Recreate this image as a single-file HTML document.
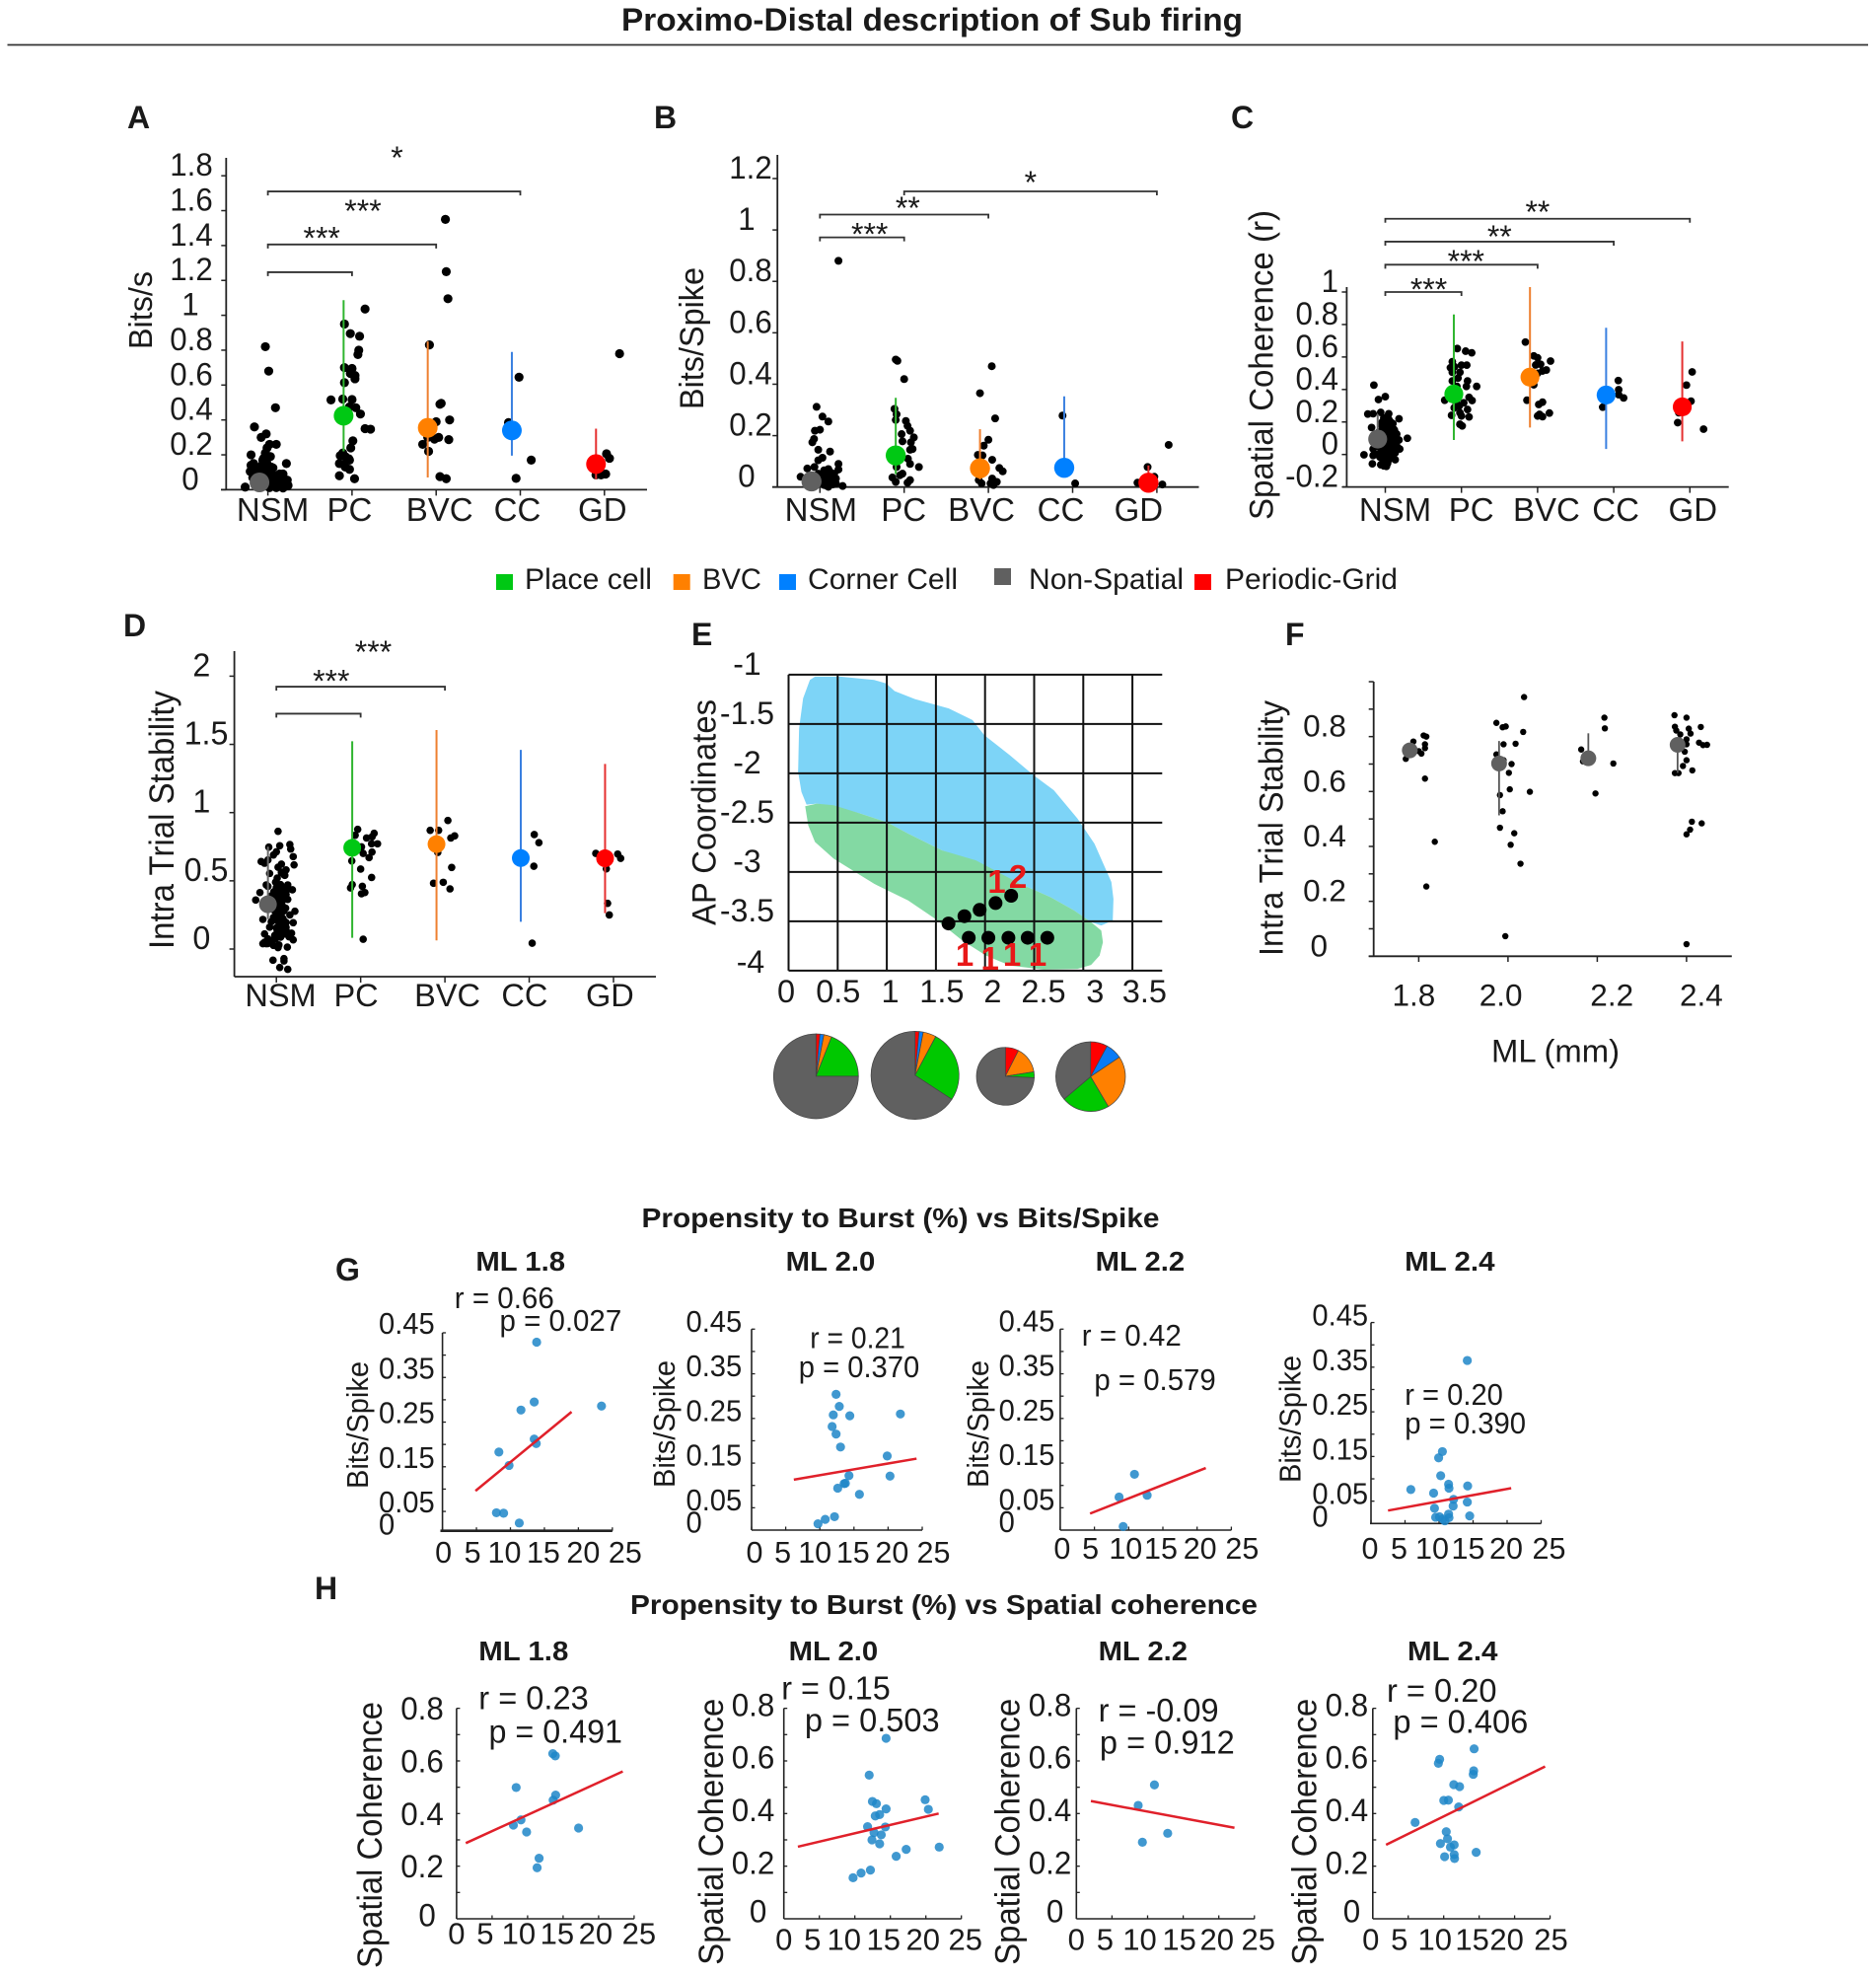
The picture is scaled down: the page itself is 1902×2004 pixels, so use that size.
<!DOCTYPE html>
<html lang="en">
<head>
<meta charset="utf-8">
<title>Proximo-Distal description of Sub firing</title>
<style>
html,body{margin:0;padding:0;background:#fff;}
svg{display:block;}
text{font-family:"Liberation Sans",Arial,sans-serif;fill:#1a1a1a;}
.letter{font-size:32px;font-weight:bold;}
.legend{font-size:29.5px;}
.section{font-size:28px;font-weight:bold;}
.ml{font-size:28px;font-weight:bold;}
</style>
</head>
<body>
<svg id="figure" xmlns="http://www.w3.org/2000/svg" width="1902" height="2004" viewBox="0 0 1902 2004">
  <rect x="0" y="0" width="1902" height="2004" fill="#fff"/>
  <text x="630" y="31" font-size="32" font-weight="bold" textLength="630" lengthAdjust="spacingAndGlyphs">Proximo-Distal description of Sub firing</text>
  <line x1="7.5" y1="45.5" x2="1894" y2="45.5" stroke="#333" stroke-width="1.8"/>

  <text class="letter" x="129" y="130">A</text>
  <text class="letter" x="663" y="130">B</text>
  <text class="letter" x="1248" y="130">C</text>
  <text class="letter" x="125" y="645">D</text>
  <text class="letter" x="701" y="654">E</text>
  <text class="letter" x="1303" y="654">F</text>
  <text class="letter" x="340" y="1298">G</text>
  <text class="letter" x="319" y="1621">H</text>

  <g>
    <rect x="503" y="582" width="17" height="16" fill="#00c814"/>
    <text class="legend" x="532" y="597" textLength="129" lengthAdjust="spacingAndGlyphs">Place cell</text>
    <rect x="682.7" y="582" width="17" height="16" fill="#ff8000"/>
    <text class="legend" x="712" y="597" textLength="60" lengthAdjust="spacingAndGlyphs">BVC</text>
    <rect x="790" y="582" width="17" height="16" fill="#0080ff"/>
    <text class="legend" x="819" y="597" textLength="152" lengthAdjust="spacingAndGlyphs">Corner Cell</text>
    <rect x="1008" y="576" width="17" height="17" fill="#606060"/>
    <text class="legend" x="1043" y="597" textLength="157" lengthAdjust="spacingAndGlyphs">Non-Spatial</text>
    <rect x="1211" y="582" width="17" height="16" fill="#ff0000"/>
    <text class="legend" x="1242" y="597" textLength="175" lengthAdjust="spacingAndGlyphs">Periodic-Grid</text>
  </g>

  <text class="section" x="650.5" y="1244" textLength="525" lengthAdjust="spacingAndGlyphs">Propensity to Burst (%) vs Bits/Spike</text>
  <text class="section" x="639" y="1636" textLength="636" lengthAdjust="spacingAndGlyphs">Propensity to Burst (%) vs Spatial coherence</text>

  <text class="ml" x="482.4" y="1288" textLength="90.6" lengthAdjust="spacingAndGlyphs">ML 1.8</text>
  <text class="ml" x="796.7" y="1288" textLength="90.6" lengthAdjust="spacingAndGlyphs">ML 2.0</text>
  <text class="ml" x="1110.7" y="1288" textLength="90.5" lengthAdjust="spacingAndGlyphs">ML 2.2</text>
  <text class="ml" x="1424.2" y="1288" textLength="91.3" lengthAdjust="spacingAndGlyphs">ML 2.4</text>
  <text class="ml" x="485.3" y="1683" textLength="91" lengthAdjust="spacingAndGlyphs">ML 1.8</text>
  <text class="ml" x="799.6" y="1683" textLength="90.6" lengthAdjust="spacingAndGlyphs">ML 2.0</text>
  <text class="ml" x="1113.6" y="1683" textLength="90.4" lengthAdjust="spacingAndGlyphs">ML 2.2</text>
  <text class="ml" x="1427" y="1683" textLength="91.5" lengthAdjust="spacingAndGlyphs">ML 2.4</text>
</svg>

<script>
/* ---------- shared categories and tick labels ---------- */
const cellTypes = ['NSM','PC','BVC','CC','GD'];
const typeSlugs = ['nsm','pc','bvc','cc','gd'];
const typeColors = ['#606060','#00c814','#ff8000','#0080ff','#ff0000'];
const errColors = ['#6a6a6a','#2fb52f','#ee8030','#3a80e0','#e53030'];
const aTicks = [0,0.2,0.4,0.6,0.8,1,1.2,1.4,1.6,1.8];
const aTickLabels = ['0','0.2','0.4','0.6','0.8','1','1.2','1.4','1.6','1.8'];
const bTicks = [0,0.2,0.4,0.6,0.8,1,1.2];
const bTickLabels = ['0','0.2','0.4','0.6','0.8','1','1.2'];
const cTicks = [-0.2,0,0.2,0.4,0.6,0.8,1];
const cTickLabels = ['-0.2','0','0.2','0.4','0.6','0.8','1'];
const dTicks = [0,0.5,1,1.5,2];
const dTickLabels = ['0','0.5','1','1.5','2'];
const fMinorTicks = [0,0.1,0.2,0.3,0.4,0.5,0.6,0.7,0.8,0.9,1];
const fTicks = [0,0.2,0.4,0.6,0.8];
const fTickLabels = ['0','0.2','0.4','0.6','0.8'];
const fCategories = ['1.8','2.0','2.2','2.4'];
const burstTicks = [0,5,10,15,20,25];
const burstTickLabels = ['0','5','10','15','20','25'];
const bitsMinor = [0.05,0.1,0.15,0.2,0.25,0.3,0.35,0.4,0.45];
const bitsLabelTicks = [0,0.05,0.15,0.25,0.35,0.45];
const bitsLabels = ['0','0.05','0.15','0.25','0.35','0.45'];
const cohMinor = [0.1,0.2,0.3,0.4,0.5,0.6,0.7,0.8];
const cohLabelTicks = [0,0.2,0.4,0.6,0.8];
const cohLabels = ['0','0.2','0.4','0.6','0.8'];
const eXTicks = [0,0.5,1,1.5,2,2.5,3,3.5];
const eXLabels = ['0','0.5','1','1.5','2','2.5','3','3.5'];
const eYTicks = [-1,-1.5,-2,-2.5,-3,-3.5,-4];
const eYLabels = ['-1','-1.5','-2','-2.5','-3','-3.5','-4'];

/* ---------- Panel A: [jitter, bits/s] ---------- */
const aNsm = [[-.03,.82],[.01,.68],[.09,.47],[-.16,.36],[-.02,.32],[-.08,.30],[.10,.26],[.02,.26],[-.01,.24],[-.03,.21],[-.20,.20],[.03,.19],[-.05,.18],[-.17,.15],[-.20,.14],[.22,.15],[-.07,.14],[.06,.125],[-.16,.12],[-.21,.105],[-.05,.11],[.14,.09],[.02,.10],[-.12,.08],[.08,.08],[.17,.06],[.23,.055],[.12,.045],[.05,.05],[0,.04],[.22,.025],[.17,.02],[.10,.012],[.02,.012],[.24,.025],[-.27,.015],[-.07,.03],[-.15,.05],[.1,.03],[.14,.02],[.18,.01],[.2,.035],[.13,.06],[.08,.02],[.06,.03],[.16,.04],[.11,.07],[-.09,.09],[-.03,.07],[-.12,.11],[0,.09],[.04,.13],[-.01,.15],[-.06,.17],[-.02,.20],[-.14,.09],[-.18,.07],[.18,.09]];
const aPc = [[.155,1.036],[-.09,.95],[-.02,.895],[.09,.88],[.08,.80],[.07,.775],[-.09,.70],[0,.695],[-.02,.667],[.035,.655],[.035,.636],[-.09,.614],[-.25,.515],[-.11,.52],[0,.517],[-.03,.475],[.045,.47],[.10,.434],[.155,.35],[.22,.347],[.01,.28],[-.015,.24],[-.11,.21],[-.14,.195],[-.08,.19],[-.04,.178],[-.03,.17],[-.15,.15],[-.10,.145],[-.08,.13],[-.03,.117],[-.15,.08],[.03,.063]];
const aBvc = [[.11,1.55],[.12,1.25],[.14,1.095],[-.08,.83],[.06,.495],[.045,.49],[.16,.40],[0,.39],[-.16,.26],[.03,.30],[-.02,.29],[.15,.287],[-.09,.22],[.045,.075],[.12,.063],[-.10,.30]];
const aCc = [[-.015,.645],[-.14,.385],[.13,.17],[-.05,.065]];
const aGd = [[.18,.78],[.025,.206],[.06,.18],[.015,.09],[-.04,.085],[-.1,.085]];
const aMeans = [.042,.424,.355,.34,.147];
const aErrHigh = [.06,1.087,.85,.79,.35];
const aErrLow = [.02,.22,.07,.195,.06];

/* ---------- Panel B: [jitter, bits/spike] ---------- */
const bNsm = [[.22,.88],[-.04,.312],[.03,.274],[.10,.255],[0,.223],[-.06,.219],[-.07,.187],[-.09,.174],[-.02,.145],[.12,.138],[.03,.114],[-.02,.104],[.22,.09],[-.15,.072],[.22,.068],[-.065,.078],[.05,.065],[.12,.059],[.17,.052],[-.23,.04],[.075,.046],[.19,.033],[-.02,.052],[.03,.033],[.10,.027],[.14,.02],[.19,.014],[.27,.004],[.05,.008],[.10,.001],[-.13,.02],[-.065,.02],[.14,.04],[.02,.04],[.04,.03],[.06,.02],[.08,.035],[.09,.05],[.11,.015],[.13,.03],[.15,.01],[.07,.06],[.1,.07],[0,.03],[.03,.05],[.12,.05],[.16,.03],[.17,.012],[.08,.005],[-.03,.04],[.01,.015]];
const bPc = [[-.10,.496],[-.08,.491],[0,.42],[-.115,.304],[-.09,.283],[-.10,.261],[.02,.257],[.04,.238],[.07,.219],[.115,.193],[-.03,.206],[-.02,.178],[.08,.174],[.10,.148],[.07,.145],[.045,.11],[.07,.09],[.175,.078],[-.09,.078],[-.02,.052],[-.14,.037],[-.05,.046],[-.10,.02],[.07,.027],[.04,.017]];
const bBvc = [[.04,.47],[-.10,.365],[.08,.267],[0,.184],[-.055,.161],[-.125,.125],[-.07,.123],[.045,.106],[.13,.074],[.17,.061],[-.115,.027],[.045,.033],[-.08,.014],[.025,.014],[.10,.02],[.06,.008]];
const bCc = [[-.12,.278],[.03,.014]];
const bGd = [[.14,.164],[-.11,.078],[-.03,.04],[-.23,.017],[.065,.01]];
const bMeans = [.022,.123,.073,.075,.017];
const bErrHigh = [.03,.347,.225,.353,.084];
const bErrLow = [.01,.05,.03,.07,.005];

/* ---------- Panel C: [jitter, spatial coherence] ---------- */
const cNsm = [[-.15,.427],[0,.356],[-.09,.338],[-.23,.249],[-.16,.251],[-.06,.259],[.045,.251],[.18,.22],[.045,.217],[-.18,.166],[-.06,.186],[.015,.196],[.065,.176],[.11,.156],[-.035,.156],[.04,.146],[-.08,.136],[.09,.126],[.15,.126],[.29,.10],[-.01,.105],[.065,.095],[.14,.085],[.18,.089],[-.06,.075],[.015,.065],[.09,.055],[.16,.045],[.19,.034],[-.16,.034],[-.06,.034],[.04,.034],[.11,.014],[-.28,-.002],[-.16,-.006],[-.01,.004],[.065,-.006],[-.07,-.016],[.13,-.032],[.03,-.032],[-.17,-.057],[-.06,-.063],[.015,-.073],[-.02,-.047],[.04,.075],[-.02,.126],[.03,.170],[.10,.105],[-.05,.105],[.06,.04],[.12,.12],[0,.19],[-.03,.09],[.09,.16],[.02,.01],[.07,.13],[-.01,.14],[.13,.065],[.05,.115],[-.03,.02],[.08,.02],[-.04,.20],[0,.17],[.05,.19],[.08,.17],[.12,.15],[-.03,.14],[.02,.16],[.06,.15],[.1,.14],[.14,.11],[-.04,.12],[0,.11],[.04,.12],[.08,.11],[.12,.09],[-.06,.05],[-.02,.06],[.02,.08],[.06,.07],[.1,.06],[.14,.06],[-.04,.01],[0,.05],[.03,.02],[.07,0],[.1,.04],[.13,.01],[.01,-.02],[.05,-.03],[-.03,-.03],[.08,-.02],[.03,-.055],[-.02,-.07],[.05,.21],[.02,.23],[-.02,.225],[.1,.19],[.07,.2],[-.08,.14],[-.11,.1],[-.13,.05],[-.1,0]];
const cPc = [[-.055,.652],[.055,.636],[.135,.626],[-.12,.571],[-.09,.54],[-.145,.534],[0,.55],[.07,.55],[-.02,.506],[-.12,.506],[-.045,.47],[-.12,.453],[.08,.453],[.065,.419],[.20,.419],[-.06,.419],[.10,.352],[-.22,.334],[.14,.332],[.03,.318],[-.03,.298],[-.095,.287],[.08,.277],[-.02,.257],[-.13,.241],[0,.237],[.10,.231],[-.02,.186],[.01,.176],[-.07,.318]];
const cBvc = [[-.16,.692],[-.05,.607],[0,.595],[.17,.575],[-.025,.551],[.04,.555],[.065,.514],[.115,.52],[0,.50],[-.05,.429],[-.14,.334],[.065,.322],[.015,.308],[.155,.255],[.025,.247],[.065,.233],[0,.237]];
const cCc = [[.06,.455],[.065,.399],[.065,.368],[.13,.348],[-.145,.291]];
const cGd = [[.03,.508],[-.045,.427],[.015,.328],[-.145,.257],[-.16,.196],[.18,.156]];
const cMeans = [.095,.372,.476,.366,.293];
const cErrHigh = [.247,.862,1.03,.78,.696];
const cErrLow = [.04,.089,.166,.034,.081];

/* ---------- Panel D: [jitter, intra trial stability] ---------- */
const dNsm = [[.02,.863],[.16,.766],[.04,.757],[-.09,.747],[.17,.733],[0,.713],[-.035,.689],[.20,.677],[-.10,.653],[-.18,.641],[-.14,.629],[.06,.622],[.21,.617],[.115,.58],[.06,.564],[-.08,.554],[.09,.545],[.01,.52],[-.01,.49],[.05,.472],[-.10,.46],[.09,.448],[.19,.434],[-.195,.414],[-.01,.424],[.05,.412],[.115,.40],[-.245,.359],[.135,.364],[.01,.376],[.07,.352],[.22,.277],[.16,.25],[-.055,.304],[.03,.292],[.09,.28],[-.16,.217],[-.035,.231],[.01,.207],[.20,.193],[.05,.171],[.115,.159],[.09,.135],[.18,.116],[.05,.087],[-.14,.111],[.20,.067],[-.10,.075],[-.16,.039],[-.12,.039],[-.035,.027],[.02,.01],[.13,.014],[-.04,-.082],[.09,-.07],[.09,-.087],[.04,-.135],[.135,-.149],[.01,.135],[-.08,.16],[-.01,.075],[.05,.255],[-.035,.376],[.03,.47],[.135,.47],[-.12,.47],[.115,.195],[-.02,.34],[.08,.22],[.04,.19],[0,.155],[.07,.40],[-.07,.06],[0,.45],[.03,.43],[.06,.39],[.09,.37],[-.03,.42],[-.06,.39],[.12,.43],[.02,.33],[.05,.33],[.08,.31],[.11,.30],[-.02,.28],[.03,.25],[0,.22],[.07,.23],[.1,.2],[.06,.16],[.09,.11],[.03,.12],[-.02,.1],[.12,.13],[.15,.09],[-.05,.06],[-.1,.04],[-.14,.05],[.03,.03],[.06,.56],[.1,.54],[.02,.6],[-.06,.2]];
const dPc = [[-.035,.877],[.16,.848],[-.065,.834],[.07,.814],[.135,.822],[.20,.771],[.13,.771],[.01,.749],[.135,.711],[.03,.701],[.10,.67],[-.105,.646],[0,.586],[.13,.525],[-.10,.472],[-.12,.448],[.02,.46],[.05,.414],[.01,.405],[.03,.072]];
const dBvc = [[.035,.942],[-.175,.87],[-.075,.87],[.115,.829],[.07,.814],[-.085,.708],[.08,.598],[-.135,.482],[-.02,.489],[.06,.441]];
const dCc = [[.06,.839],[.115,.78],[.055,.607],[.035,.043]];
const dGd = [[-.21,.701],[.05,.696],[.085,.665],[-.085,.588],[-.07,.335],[-.05,.25]];
const dMeans = [.328,.742,.769,.667,.665];
const dErrHigh = [.75,1.523,1.605,1.46,1.357];
const dErrLow = [.22,.082,.063,.2,.263];

/* ---------- Panel E: recording map ---------- */
const subicularBlue = [[.217,-1.054],[.269,-1.02],[.528,-1.02],[.872,-1.054],[.993,-1.088],[1.079,-1.166],[1.286,-1.247],[1.631,-1.342],[1.872,-1.46],[1.993,-1.613],[2.252,-1.816],[2.493,-2.019],[2.7,-2.171],[2.941,-2.459],[3.114,-2.713],[3.286,-3.102],[3.307,-3.272],[3.3,-3.492],[3.183,-3.542],[3.079,-3.508],[2.907,-3.39],[2.666,-3.255],[2.355,-3.119],[1.907,-2.899],[1.562,-2.781],[1.217,-2.611],[1.01,-2.5],[.734,-2.408],[.459,-2.334],[.286,-2.307],[.183,-2.317],[.131,-2.188],[.097,-1.985],[.107,-1.545],[.148,-1.24]];
const subicularGreen = [[.169,-2.334],[.286,-2.307],[.459,-2.324],[.734,-2.408],[1.01,-2.5],[1.217,-2.611],[1.562,-2.781],[1.907,-2.882],[2.355,-3.119],[2.666,-3.255],[2.907,-3.39],[3.079,-3.508],[3.183,-3.593],[3.2,-3.712],[3.166,-3.847],[3.079,-3.942],[2.941,-3.982],[2.597,-3.989],[2.252,-3.948],[2.01,-3.847],[1.769,-3.695],[1.493,-3.475],[1.217,-3.289],[.872,-3.12],[.459,-2.865],[.269,-2.696],[.2,-2.527]];
const recordingSites = [[1.628,-3.522],[1.79,-3.448],[1.945,-3.384],[2.107,-3.315],[2.266,-3.241],[1.834,-3.667],[2.034,-3.667],[2.238,-3.667],[2.434,-3.667],[2.634,-3.667]];
const pieOrder = ['periodic-grid','corner-cell','bvc','place-cell','non-spatial'];
const pieColors = ['#ff0000','#0a7bf5','#ff8000','#00c800','#606060'];
const pieMl18 = [1.5,1.5,3,19,75];
const pieMl20 = [1.5,1.5,4.8,26.4,65.8];
const pieMl22 = [7.5,0,15,3.3,74.2];
const pieMl24 = [7.9,7.7,25.9,22.3,36.2];

/* ---------- Panel F: [jitter, stability] ---------- */
const fMl18 = [[-.06,.782],[.055,.804],[.085,.80],[.07,.772],[.07,.758],[0,.747],[.03,.738],[-.145,.719],[.07,.647],[.18,.417],[.085,.254]];
const fMl20 = [[.18,.944],[-.13,.85],[-.06,.834],[-.025,.837],[.17,.817],[-.05,.772],[.085,.774],[-.13,.735],[-.05,.714],[.04,.70],[.01,.668],[.02,.608],[.245,.599],[-.09,.587],[-.06,.528],[-.09,.468],[.07,.448],[.03,.406],[.14,.337],[-.03,.073]];
const fMl22 = [[.08,.869],[.085,.83],[-.18,.753],[-.16,.71],[.18,.702],[-.02,.593]];
const fMl24 = [[-.135,.878],[0,.869],[-.13,.836],[-.115,.822],[.025,.829],[.16,.835],[-.07,.808],[.045,.811],[0,.79],[0,.772],[.14,.778],[.185,.769],[.23,.77],[-.02,.745],[0,.714],[-.04,.693],[.065,.677],[-.13,.667],[-.09,.667],[.06,.49],[.17,.484],[.04,.461],[0,.444],[0,.044]];
const fMeans = [.75,.702,.721,.77];
const fErrHigh = [.76,.784,.812,.78];
const fErrLow = [.74,.513,.71,.668];

/* ---------- Panel G: [burst %, bits/spike] and fit ends ---------- */
const g18 = [[13.86,.429],[13.5,.295],[11.55,.277],[23.4,.286],[13.5,.212],[13.8,.202],[8.3,.183],[9.8,.153],[7.94,.047],[9.0,.046],[11.3,.024]];
const g18Fit = [[4.86,.096],[19,.273]];
const g20 = [[12.38,.304],[12.85,.277],[11.97,.258],[14.39,.256],[21.8,.26],[11.8,.232],[12.38,.215],[13.03,.186],[19.87,.166],[20.28,.121],[14.27,.122],[13.56,.104],[13.74,.105],[12.62,.094],[15.8,.08],[12.15,.03],[10.79,.024],[9.73,.014]];
const g20Fit = [[6.19,.113],[24.17,.16]];
const g22 = [[10.85,.125],[8.6,.074],[12.7,.078],[9.2,.008]];
const g22Fit = [[4.36,.037],[21.27,.139]];
const g24 = [[14.15,.365],[10.49,.161],[9.94,.147],[10.24,.107],[11.4,.088],[11.46,.079],[14.2,.084],[5.85,.076],[9.2,.068],[12.13,.054],[14.15,.048],[12.07,.039],[9.33,.034],[11.4,.021],[14.5,.017],[9.5,.014],[10.06,.015],[11.46,.013],[10.55,.01],[10.85,.006]];
const g24Fit = [[2.5,.029],[20.6,.079]];

/* ---------- Panel H: [burst %, spatial coherence] and fit ends ---------- */
const h18 = [[13.55,.6275],[13.9,.619],[8.39,.499],[13.95,.47],[13.6,.451],[9.07,.376],[8.0,.356],[9.86,.33],[17.18,.345],[11.62,.23],[11.34,.194]];
const h18Fit = [[1.3,.2875],[23.4,.56]];
const h20 = [[14.4,.686],[12.02,.546],[12.47,.446],[13.04,.4375],[14.4,.4175],[19.9,.4525],[20.35,.416],[13.49,.396],[12.87,.391],[11.79,.35],[14.29,.349],[12.7,.3275],[13.72,.319],[12.41,.30],[13.49,.285],[17.23,.264],[15.82,.2375],[21.88,.2725],[12.19,.185],[10.88,.174],[9.75,.156]];
const h20Fit = [[1.98,.274],[21.8,.40]];
const h22 = [[10.96,.509],[8.68,.431],[12.82,.325],[9.27,.291]];
const h22Fit = [[2.04,.4475],[22.2,.346]];
const h24 = [[14.29,.646],[9.43,.606],[9.25,.591],[14.23,.5625],[14.17,.549],[11.42,.51],[12.24,.5025],[10.01,.45],[10.66,.451],[12.12,.425],[5.97,.366],[10.36,.331],[10.54,.304],[9.54,.286],[10.95,.2725],[11.48,.281],[14.58,.2525],[10.13,.236],[11.48,.244],[11.53,.229]];
const h24Fit = [[1.87,.281],[24.3,.579]];

/* ---------- drawing helpers ---------- */
const NS = 'http://www.w3.org/2000/svg';
const figure = document.getElementById('figure');
const INK = '#222';

function mk(tag, parent, name, attrs) {
  const el = document.createElementNS(NS, tag);
  
  
  for (const k in attrs) el.setAttribute(k, attrs[k]);
  parent.appendChild(el);
  return el;
}
function line(parent, name, x1, y1, x2, y2, stroke, width) {
  return mk('line', parent, name, {x1: x1, y1: y1, x2: x2, y2: y2, stroke: stroke, 'stroke-width': width});
}
function dot(parent, name, cx, cy, r, fill, extra) {
  return mk('circle', parent, name, Object.assign({cx: cx, cy: cy, r: r, fill: fill}, extra || {}));
}
function label(parent, name, str, x, y, size, anchor, len, extra) {
  const attrs = Object.assign({x: x, y: y, 'font-size': size, 'text-anchor': anchor || 'middle'}, extra || {});
  if (len) { attrs.textLength = len; attrs.lengthAdjust = 'spacingAndGlyphs'; }
  const el = mk('text', parent, name, attrs);
  el.textContent = str;
  return el;
}
function narrow(el, factor) {
  const w = el.getComputedTextLength();
  if (w > 0) {
    el.setAttribute('textLength', w * factor);
    el.setAttribute('lengthAdjust', 'spacingAndGlyphs');
  }
  return el;
}
function yTitle(parent, name, str, baselineX, bottom, len, size) {
  return label(parent, name, str, baselineX, bottom, size, 'start', len, {transform: 'rotate(-90 ' + baselineX + ' ' + bottom + ')'});
}

/* ---------- swarm panels A–D ---------- */
function swarmPanel(c) {
  const g = mk('g', figure, c.name, {});
  const xScale = function (v) { return c.x0 + v * c.step; };
  const yScale = function (v) { return c.y0 - v * c.k; };
  yTitle(g, 'y-axis-title', c.title, c.titleX, c.titleBottom, c.titleLen, c.titleSize);
  line(g, 'y-axis', c.axisX, c.axisTop, c.axisX, c.axisY, INK, 1.8);
  line(g, 'x-axis', c.xLeft, c.axisY, c.xRight, c.axisY, INK, 1.8);
  c.ticks.forEach(function (t, i) {
    line(g, 'y-tick', c.axisX - 5, yScale(t), c.axisX, yScale(t), INK, 1.5);
    const integer = c.tickLabels[i].indexOf('.') < 0;
    narrow(label(g, 'y-tick-label', c.tickLabels[i], c.labelX + (integer ? c.intNudge : 0), yScale(t), c.fontSize * 1.05, c.labelAnchor), .96);
  });
  cellTypes.forEach(function (name, i) {
    line(g, 'x-tick', xScale(i), c.axisY, xScale(i), c.axisY + 6, INK, 1.5);
    label(g, 'x-tick-label-' + typeSlugs[i], name, xScale(i) + c.nudge[i], c.xLabelY, c.xFont);
  });
  c.groups.forEach(function (pts, i) {
    pts.forEach(function (p) {
      dot(g, typeSlugs[i] + '-point', xScale(i + p[0]), yScale(p[1]), c.dotR, '#000');
    });
  });
  c.means.forEach(function (m, i) {
    const mx = xScale(i + c.meanOffset);
    line(g, typeSlugs[i] + '-error-bar', mx, yScale(c.errHigh[i]), mx, yScale(c.errLow[i]), errColors[i], 2);
    dot(g, typeSlugs[i] + '-mean', mx, yScale(m), c.meanR, typeColors[i]);
  });
  c.brackets.forEach(function (b) {
    const lx = xScale(b[0]), rx = xScale(b[1]), ly = yScale(b[2]);
    mk('path', g, 'significance-bracket', {d: 'M' + lx + ' ' + (ly + 4) + 'V' + ly + 'H' + rx + 'V' + (ly + 4), fill: 'none', stroke: '#333', 'stroke-width': 1.8});
  });
  c.stars.forEach(function (s) {
    label(g, 'significance-stars', s[0], xScale(s[1]), yScale(s[2]) + 15, 32);
  });
}

swarmPanel({name:'panel-a', groups:[aNsm,aPc,aBvc,aCc,aGd], means:aMeans, errHigh:aErrHigh, errLow:aErrLow,
  x0:271.6, step:85.3, y0:496.4, k:176.8, axisX:229.3, axisTop:160, axisY:496.4, xLeft:224, xRight:656,
  dotR:4.6, meanR:10, meanOffset:-.10, ticks:aTicks, tickLabels:aTickLabels, labelX:194, intNudge:-1, labelAnchor:'middle', fontSize:31, xFont:33,
  xLabelY:528, nudge:[5,-2.5,3.5,-3,-2], title:'Bits/s', titleX:154, titleBottom:354, titleLen:79, titleSize:33,
  brackets:[[0,3,1.71],[0,2,1.406],[0,1,1.247]],
  stars:[['*',1.535,1.925],['***',1.13,1.62],['***',.64,1.464]]});

swarmPanel({name:'panel-b', groups:[bNsm,bPc,bBvc,bCc,bGd], means:bMeans, errHigh:bErrHigh, errLow:bErrLow,
  x0:831.3, step:85.4, y0:493.7, k:260.6, axisX:788.2, axisTop:157, axisY:493.7, xLeft:783, xRight:1215.5,
  dotR:4, meanR:10.2, meanOffset:-.10, ticks:bTicks, tickLabels:bTickLabels, labelX:761, intNudge:-4, labelAnchor:'middle', fontSize:31, xFont:33,
  xLabelY:528, nudge:[1,-.5,-7,-12,-18.5], title:'Bits/Spike', titleX:713, titleBottom:415, titleLen:144, titleSize:34,
  brackets:[[1,4,1.15],[0,2,1.06],[0,1,.971]],
  stars:[['*',2.5,1.2],['**',1.043,1.10],['***',.59,.998]]});

swarmPanel({name:'panel-c', groups:[cNsm,cPc,cBvc,cCc,cGd], means:cMeans, errHigh:cErrHigh, errLow:cErrLow,
  x0:1404.5, step:77.2, y0:460.7, k:164.7, axisX:1365.4, axisTop:291, axisY:493.6, xLeft:1361, xRight:1752.7,
  dotR:3.9, meanR:9.6, meanOffset:-.10, ticks:cTicks, tickLabels:cTickLabels, labelX:1357, intNudge:0, labelAnchor:'end', fontSize:31, xFont:33,
  xLabelY:528, nudge:[10,10,9,2,3], title:'Spatial Coherence (r)', titleX:1290.5, titleBottom:527, titleLen:314, titleSize:34,
  brackets:[[0,4,1.451],[0,3,1.31],[0,2,1.168],[0,1,1.0]],
  stars:[['**',2,1.517],['**',1.5,1.365],['***',1.06,1.213],['***',.57,1.04]]});

swarmPanel({name:'panel-d', groups:[dNsm,dPc,dBvc,dCc,dGd], means:dMeans, errHigh:dErrHigh, errLow:dErrLow,
  x0:280.2, step:85.45, y0:962, k:138.3, axisX:237.6, axisTop:660, axisY:990, xLeft:237.6, xRight:665,
  dotR:3.8, meanR:9, meanOffset:-.10, ticks:dTicks, tickLabels:dTickLabels, labelX:209, intNudge:-4.7, labelAnchor:'middle', fontSize:32, xFont:32.5,
  xLabelY:1020, nudge:[4.3,-4.6,2.5,-4.7,-3.6], title:'Intra Trial Stability', titleX:176, titleBottom:962, titleLen:262, titleSize:35,
  brackets:[[0,2,1.923],[0,1,1.725]],
  stars:[['***',1.15,2.204],['***',.65,1.992]]});

/* ---------- Panel E ---------- */
(function () {
  const g = mk('g', figure, 'panel-e', {});
  const xE = function (v) { return 799.5 + v * 99.6; };
  const yE = function (v) { return 683.9 + (-1 - v) * 100; };
  const toPoints = function (arr) { return arr.map(function (p) { return xE(p[0]) + ',' + yE(p[1]); }).join(' '); };
  const xNudge = [-2.5,.5,3.5,6,7.7,9.5,12,12.3];
  yTitle(g, 'y-axis-title', 'AP Coordinates', 725.5, 938, 229, 34);
  mk('polygon', g, 'dorsal-subiculum-region', {points: toPoints(subicularBlue), fill: '#7dd4f7'});
  mk('polygon', g, 'distal-subiculum-region', {points: toPoints(subicularGreen), fill: '#83d9a3'});
  eXTicks.forEach(function (t, i) {
    line(g, 'grid-line-vertical', xE(t), yE(-1), xE(t), yE(-4), '#111', 2);
    label(g, 'x-tick-label', eXLabels[i], xE(t) + xNudge[i], 1016, 32.5);
  });
  eYTicks.forEach(function (t, i) {
    line(g, 'grid-line-horizontal', xE(0), yE(t), 1178.3, yE(t), '#111', 2);
    label(g, 'y-tick-label', eYLabels[i], t === -4 ? 761 : 757.5, yE(t) + (t === -4 ? 2 : 0), 32);
  });
  recordingSites.forEach(function (p) {
    dot(g, 'recording-site', xE(p[0]), yE(p[1]), 7, '#000');
  });
  const red = {'font-weight': 'bold', style: 'fill:#e81818'};
  label(g, 'site-count', '1', 1010.6, 905, 33, 'middle', 0, red);
  label(g, 'site-count', '2', 1032, 900, 33, 'middle', 0, red);
  label(g, 'site-count', '1', 978, 979, 33, 'middle', 0, red);
  label(g, 'site-count', '1', 1003.7, 983, 33, 'middle', 0, red);
  label(g, 'site-count', '1', 1026, 979, 33, 'middle', 0, red);
  label(g, 'site-count', '1', 1052, 979, 33, 'middle', 0, red);

  function pie(name, shares, cx, cy, r) {
    const pg = mk('g', g, name, {});
    const total = shares.reduce(function (a, b) { return a + b; }, 0);
    let acc = 0;
    shares.forEach(function (s, i) {
      if (!s) return;
      const a0 = acc / total * 2 * Math.PI;
      acc += s;
      const a1 = acc / total * 2 * Math.PI;
      const large = a1 - a0 > Math.PI ? 1 : 0;
      const d = 'M' + cx + ' ' + cy + 'L' + (cx + r * Math.sin(a0)) + ' ' + (cy - r * Math.cos(a0)) +
        'A' + r + ' ' + r + ' 0 ' + large + ' 1 ' + (cx + r * Math.sin(a1)) + ' ' + (cy - r * Math.cos(a1)) + 'Z';
      mk('path', pg, 'pie-slice-' + pieOrder[i], {d: d, fill: pieColors[i], stroke: '#444', 'stroke-width': .7});
    });
  }
  pie('pie-ml-1-8', pieMl18, 827.3, 1091, 43);
  pie('pie-ml-2-0', pieMl20, 927.7, 1090, 44.6);
  pie('pie-ml-2-2', pieMl22, 1019.3, 1091, 29.3);
  pie('pie-ml-2-4', pieMl24, 1105.7, 1091.3, 35.3);
})();

/* ---------- Panel F ---------- */
(function () {
  const g = mk('g', figure, 'panel-f', {});
  const xF = function (v) { return 1438.4 + v * 90.5; };
  const yF = function (v) { return 969.3 - v * 278.3; };
  const groups = [fMl18, fMl20, fMl22, fMl24];
  const slugs = ['ml-1-8','ml-2-0','ml-2-2','ml-2-4'];
  const nudge = [-5,-7.3,14.8,15];
  yTitle(g, 'y-axis-title', 'Intra Trial Stability', 1300.5, 969, 259, 34);
  groups.forEach(function (pts, i) {
    pts.forEach(function (p) {
      dot(g, slugs[i] + '-point', xF(i + p[0]), yF(p[1]), 3.2, '#000');
    });
  });
  fMeans.forEach(function (m, i) {
    const mx = xF(i - .10);
    line(g, slugs[i] + '-error-bar', mx, yF(fErrHigh[i]), mx, yF(fErrLow[i]), '#555', 1.8);
    dot(g, slugs[i] + '-mean', mx, yF(m), 8, '#606060');
  });
  line(g, 'y-axis', 1392.7, 691, 1392.7, 969.3, INK, 1.8);
  line(g, 'x-axis', 1387.7, 969.3, 1755.8, 969.3, INK, 1.8);
  fMinorTicks.forEach(function (t) {
    line(g, 'y-tick', 1387.7, yF(t), 1392.7, yF(t), INK, 1.5);
  });
  fTicks.forEach(function (t, i) {
    label(g, 'y-tick-label', fTickLabels[i], t === 0 ? 1337.3 : 1343, yF(t), 31.5);
  });
  fCategories.forEach(function (name, i) {
    line(g, 'x-tick', xF(i), 969.3, xF(i), 975, INK, 1.5);
    label(g, 'x-tick-label-' + slugs[i], name, xF(i) + nudge[i], 1019.3, 31.5);
  });
  label(g, 'x-axis-title', 'ML (mm)', 1577, 1076.7, 32, 'middle', 130);
})();

/* ---------- Panels G and H ---------- */
function scatterPanel(c) {
  const g = mk('g', figure, c.name, {});
  const xS = function (v) { return c.x0 + v * c.xk; };
  const yS = function (v) { return c.y0 - v * c.yk; };
  yTitle(g, 'y-axis-title', c.title, c.titleX, c.titleBottom, c.titleLen, c.titleSize);
  line(g, 'y-axis', c.x0, yS(c.yMax), c.x0, c.axisY, INK, 1.6);
  line(g, 'x-axis', c.xLeft, c.axisY, xS(25), c.axisY, INK, c.axisW || 1.6);
  c.minor.forEach(function (t) {
    line(g, 'y-tick', c.x0, yS(t), c.x0 + 3.5, yS(t), INK, 1.3);
  });
  burstTicks.forEach(function (t, i) {
    line(g, 'x-tick', xS(t), c.axisY, xS(t), c.axisY - 3.5, INK, 1.3);
    label(g, 'x-tick-label', burstTickLabels[i], xS(t) + c.xNudge[i], c.xLabelY, c.xTickSize);
  });
  c.labelTicks.forEach(function (t, i) {
    const zero = t === 0;
    const el = label(g, 'y-tick-label', c.labels[i], c.labelX + (zero ? c.zeroNudge : 0), yS(t) + c.labelDrop + (zero ? c.zeroDrop : 0), c.tickSize, c.labelAnchor);
    narrow(el, c.tickNarrow);
  });
  c.points.forEach(function (p) {
    dot(g, 'scatter-point', xS(p[0]), yS(p[1]), 4.6, '#1f86c8', {'fill-opacity': .85});
  });
  line(g, 'regression-line', xS(c.fit[0][0]), yS(c.fit[0][1]), xS(c.fit[1][0]), yS(c.fit[1][1]), '#e0202a', 2.5);
  label(g, 'correlation-r', c.r[0], c.r[1], c.r[2], c.statSize, 'start', c.r[3]);
  label(g, 'correlation-p', c.p[0], c.p[1], c.p[2], c.statSize, 'start', c.p[3]);
}

const gShared = {yk:452.7, yMax:.45, minor:bitsMinor, labelTicks:bitsLabelTicks, labels:bitsLabels, labelAnchor:'start', zeroNudge:0, zeroDrop:0, tickSize:31, tickNarrow:.94, xTickSize:30.5, statSize:30.5, title:'Bits/Spike', titleLen:129, titleSize:31};
scatterPanel(Object.assign({}, gShared, {name:'panel-g-ml-1-8', points:g18, fit:g18Fit, x0:448.6, xk:6.89, y0:1554.7, axisY:1551.7, xLeft:446.5, axisW:2.6,
  labelX:384, labelDrop:1, xLabelY:1584, xNudge:[1,-4,-6,-1,5,13], titleX:373, titleBottom:1509,
  r:['r = 0.66',460.8,1326,101], p:['p = 0.027',506.5,1349,123.7]}));
scatterPanel(Object.assign({}, gShared, {name:'panel-g-ml-2-0', points:g20, fit:g20Fit, x0:762, xk:6.92, y0:1551, axisY:1551, xLeft:762,
  labelX:695.5, labelDrop:2.5, xLabelY:1584, xNudge:[3,-3,-5,-1,4,11.5], titleX:684, titleBottom:1508,
  r:['r = 0.21',821.2,1366.7,96.7], p:['p = 0.370',809.8,1396,122.4]}));
scatterPanel(Object.assign({}, gShared, {name:'panel-g-ml-2-2', points:g22, fit:g22Fit, x0:1074.9, xk:6.94, y0:1551, axisY:1551, xLeft:1074.9,
  labelX:1012.6, labelDrop:2, xLabelY:1580, xNudge:[2,-4,-3,-2,3,11], titleX:1002, titleBottom:1508,
  r:['r = 0.42',1096.8,1364,101], p:['p = 0.579',1109.4,1409,123.3]}));
scatterPanel(Object.assign({}, gShared, {name:'panel-g-ml-2-4', points:g24, fit:g24Fit, x0:1390, xk:6.9, y0:1544.3, axisY:1544.3, xLeft:1389,
  labelX:1330.4, labelDrop:3, xLabelY:1580, xNudge:[-1,-6,-7,-5,-1,8], titleX:1318.6, titleBottom:1503,
  r:['r = 0.20',1424.2,1424,99.7], p:['p = 0.390',1424.2,1453,122.9]}));

const hShared = {yk:266.7, yMax:.8, minor:cohMinor, labelTicks:cohLabelTicks, labels:cohLabels, labelAnchor:'end', zeroNudge:-8, zeroDrop:-4, tickSize:32, tickNarrow:.98, xTickSize:31, statSize:33, y0:1945, axisY:1945, title:'Spatial Coherence', titleLen:270, titleSize:35};
scatterPanel(Object.assign({}, hShared, {name:'panel-h-ml-1-8', points:h18, fit:h18Fit, x0:462.9, xk:7.2, xLeft:462.9,
  labelX:449.8, labelDrop:11.5, xLabelY:1970.7, xNudge:[0,-7,-9,-6,-3,5], titleX:387, titleBottom:1995,
  r:['r = 0.23',485.3,1732.7,111.4], p:['p = 0.491',495.5,1766.7,135.5]}));
scatterPanel(Object.assign({}, hShared, {name:'panel-h-ml-2-0', points:h20, fit:h20Fit, x0:794.7, xk:7.2, xLeft:794.7,
  labelX:785.3, labelDrop:7.7, xLabelY:1976.7, xNudge:[0,-7,-11,-7,-3,4], titleX:733, titleBottom:1991.7,
  r:['r = 0.15',792.2,1722.3,110.6], p:['p = 0.503',815.9,1755,136.7]}));
scatterPanel(Object.assign({}, hShared, {name:'panel-h-ml-2-2', points:h22, fit:h22Fit, x0:1091.3, xk:7.22, xLeft:1091.3,
  labelX:1086.3, labelDrop:7.7, xLabelY:1976.7, xNudge:[0,-7,-8,-4,-2,4], titleX:1033.6, titleBottom:1991.7,
  r:['r = -0.09',1113.6,1745,122], p:['p = 0.912',1114.9,1777.7,136.8]}));
scatterPanel(Object.assign({}, hShared, {name:'panel-h-ml-2-4', points:h24, fit:h24Fit, x0:1391.8, xk:7.19, xLeft:1391.8,
  labelX:1387.2, labelDrop:7.7, xLabelY:1976.7, xNudge:[-2,-9,-9,-7,-8,1], titleX:1334.6, titleBottom:1991.7,
  r:['r = 0.20',1406,1725,111.5], p:['p = 0.406',1412.4,1756.7,136.8]}));
</script>
</body>
</html>
